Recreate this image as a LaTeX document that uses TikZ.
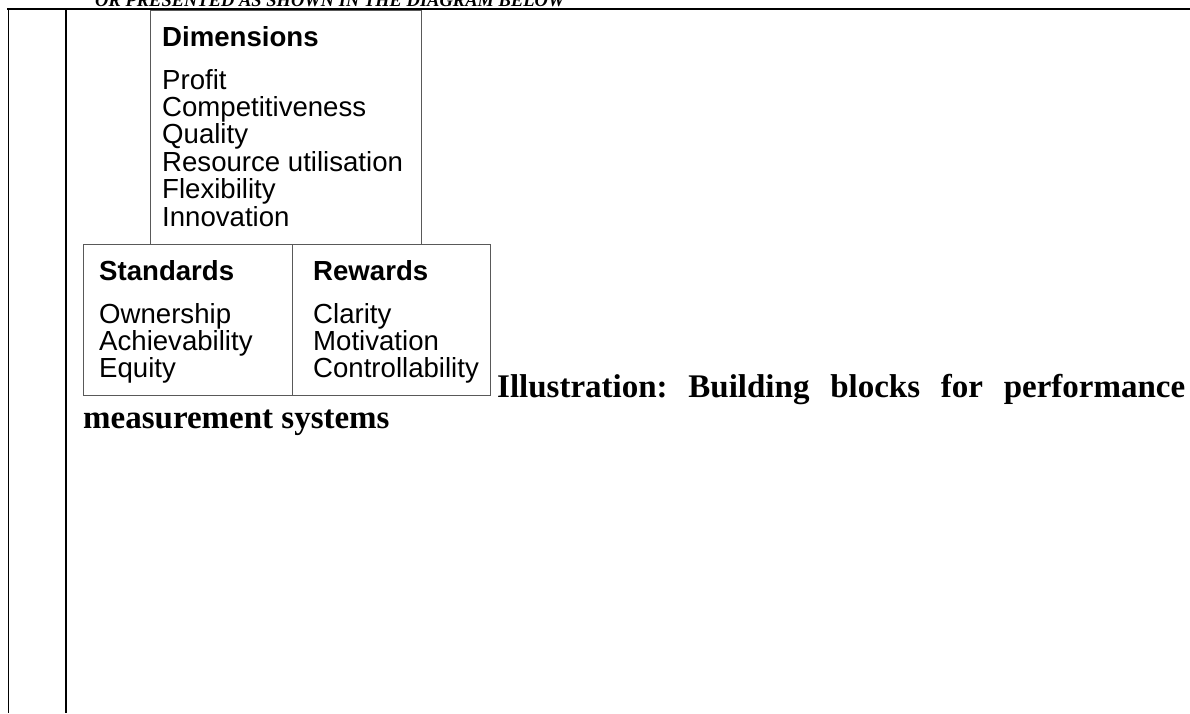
\documentclass[tikz,border=0pt]{standalone}
\usepackage{fontspec}
\setmainfont{Liberation Sans}
\newfontfamily\capfont{Liberation Serif}
\usetikzlibrary{calc}

\begin{document}
\begin{tikzpicture}[
  x=1pt, y=-1pt,
  blk/.style={draw=black!65, line width=1pt, anchor=north west, inner sep=0pt, outer sep=0pt},
  head/.style={anchor=base west, inner sep=0pt, font=\fontsize{27.6}{28}\selectfont\bfseries},
  item/.style={anchor=base west, inner sep=0pt, font=\fontsize{27.6}{28}\selectfont},
  capt/.style={anchor=base west, inner sep=0pt, font=\fontsize{33}{33}\selectfont\capfont\bfseries},
  thinrule/.style={line width=1pt},
  thickrule/.style={line width=2.2pt},
]
\useasboundingbox (0,0) rectangle (1190,713);
% page text cut off at the top
\begin{scope}
  \clip (0,0) rectangle (1190,8);
  \node[anchor=base west, inner sep=0pt, font=\fontsize{18.5}{18.5}\selectfont\capfont\bfseries\itshape] (lead) at (95,6) {OR PRESENTED AS SHOWN IN THE DIAGRAM BELOW};
\end{scope}
% table rules
\draw[thickrule] (7,9) -- (1190,9);
\draw[thinrule] (8,9) -- (8,713);
\draw[thickrule] (66,9) -- (66,713);
% building blocks
\node[blk, minimum width=271, minimum height=234] (dims) at (150,10) {};
\node[blk, minimum width=209, minimum height=151] (stds) at (83,244) {};
\node[blk, minimum width=198, minimum height=151] (rwds) at (292,244) {};
\node[head] at ($(dims.north west)+(12,36)$) {Dimensions};
\foreach \txt [count=\i from 0] in {Profit,Competitiveness,Quality,Resource utilisation,Flexibility,Innovation}
  \node[item] at ($(dims.north west)+(12,79+27.4*\i)$) {\txt};
\node[head] at ($(stds.north west)+(16,36)$) {Standards};
\foreach \txt [count=\i from 0] in {Ownership,Achievability,Equity}
  \node[item] at ($(stds.north west)+(16,79+27.4*\i)$) {\txt};
\node[head] at ($(rwds.north west)+(21,36)$) {Rewards};
\foreach \txt [count=\i from 0] in {Clarity,Motivation,Controllability}
  \node[item] at ($(rwds.north west)+(21,79+27.4*\i)$) {\txt};
% caption wrapped round the figure
\node[capt] (cap1) at (497,397) {\hbox to 688pt{Illustration:\hfill Building\hfill blocks\hfill for\hfill performance}};
\node[capt] (cap2) at (83,428) {measurement systems};
\end{tikzpicture}
\end{document}
